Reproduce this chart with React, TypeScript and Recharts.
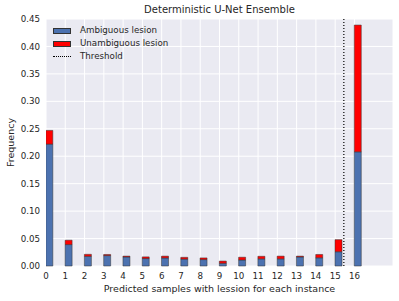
import React from 'react';
import {
  ComposedChart,
  Bar,
  XAxis,
  YAxis,
  CartesianGrid,
  ReferenceLine,
  Label,
} from 'recharts';

// number of ensemble samples predicting a lesion
const samples = [0, 1, 2, 3, 4, 5, 6, 7, 8, 9, 10, 11, 12, 13, 14, 15, 16];
const ambiguous = [0.222, 0.039, 0.0177, 0.019, 0.0165, 0.0136, 0.0147, 0.0126, 0.0117, 0.005, 0.011, 0.013, 0.013, 0.0165, 0.015, 0.026, 0.208];
const unambiguous = [0.025, 0.008, 0.0036, 0.002, 0.0015, 0.003, 0.0033, 0.0032, 0.003, 0.004, 0.005, 0.0047, 0.005, 0.0015, 0.006, 0.022, 0.231];
const xTicks = [0, 1, 2, 3, 4, 5, 6, 7, 8, 9, 10, 11, 12, 13, 14, 15, 16];
const yTicks = [0, 0.05, 0.1, 0.15, 0.2, 0.25, 0.3, 0.35, 0.4, 0.45];
const threshold = 15.45;

const FONT = '"DejaVu Sans", sans-serif';
const TXT = '#262626';
const BLUE = '#4C72B0';
const RED = '#FF0000';

// bars are drawn from the tick to the right (edge aligned)
const BAR_SHIFT = 0.18;

const data = samples.map((s, i) => ({
  pos: s + BAR_SHIFT,
  ambiguous: ambiguous[i],
  unambiguous: unambiguous[i],
}));

const LegendBox: React.FC = () => (
  <div style={{ position: 'absolute', left: 53, top: 24, fontFamily: FONT, fontSize: 8.7, color: TXT, lineHeight: '13px' }}>
    <div style={{ display: 'flex', alignItems: 'center' }}>
      <span style={{ width: 18, height: 6, background: BLUE, border: '0.5px solid #333', boxSizing: 'border-box', marginRight: 9 }} />
      Ambiguous lesion
    </div>
    <div style={{ display: 'flex', alignItems: 'center' }}>
      <span style={{ width: 18, height: 6, background: RED, border: '0.5px solid #333', boxSizing: 'border-box', marginRight: 9 }} />
      Unambiguous lesion
    </div>
    <div style={{ display: 'flex', alignItems: 'center' }}>
      <span style={{ width: 18, height: 0, borderTop: '1px dotted #000', marginRight: 9 }} />
      Threshold
    </div>
  </div>
);

const App: React.FC = () => {
  return (
    <div style={{ position: 'absolute', left: 0, top: 0, width: 399, height: 301, background: '#fff' }}>
      <div style={{ position: 'absolute', left: 46, width: 347, top: 4, textAlign: 'center', fontFamily: FONT, fontSize: 10, color: TXT }}>
        Deterministic U-Net Ensemble
      </div>
      <ComposedChart
        width={399}
        height={301}
        data={data}
        margin={{ top: 19, right: 6, bottom: 5, left: 0 }}
      >
        <CartesianGrid fill="#EAEAF2" stroke="#ffffff" strokeWidth={1} />
        <XAxis
          dataKey="pos"
          type="number"
          domain={[0, 18]}
          ticks={xTicks}
          interval={0}
          allowDataOverflow
          axisLine={false}
          tickLine={false}
          tickSize={0}
          tickMargin={7}
          height={30}
          tick={{ fill: TXT, fontSize: 8.7, fontFamily: FONT }}
        >
          <Label
            value="Predicted samples with lession for each instance"
            position="insideBottom"
            offset={4}
            style={{ fill: TXT, fontSize: 9.5, fontFamily: FONT }}
          />
        </XAxis>
        <YAxis
          type="number"
          domain={[0, 0.45]}
          ticks={yTicks}
          interval={0}
          width={46}
          axisLine={false}
          tickLine={false}
          tickSize={0}
          tickMargin={6}
          tickFormatter={(v: number) => v.toFixed(2)}
          tick={{ fill: TXT, fontSize: 8.7, fontFamily: FONT }}
        >
          <Label
            value="Frequency"
            angle={-90}
            position="insideLeft"
            offset={11}
            style={{ fill: TXT, fontSize: 9.5, fontFamily: FONT, textAnchor: 'middle' }}
          />
        </YAxis>
        <Bar dataKey="ambiguous" stackId="a" fill={BLUE} stroke="#333" strokeWidth={0.5} barSize={7} isAnimationActive={false} />
        <Bar dataKey="unambiguous" stackId="a" fill={RED} stroke="#333" strokeWidth={0.5} barSize={7} isAnimationActive={false} />
        <ReferenceLine x={threshold} stroke="#000" strokeWidth={1.2} strokeDasharray="1 2" />
      </ComposedChart>
      <LegendBox />
    </div>
  );
};

export default App;
